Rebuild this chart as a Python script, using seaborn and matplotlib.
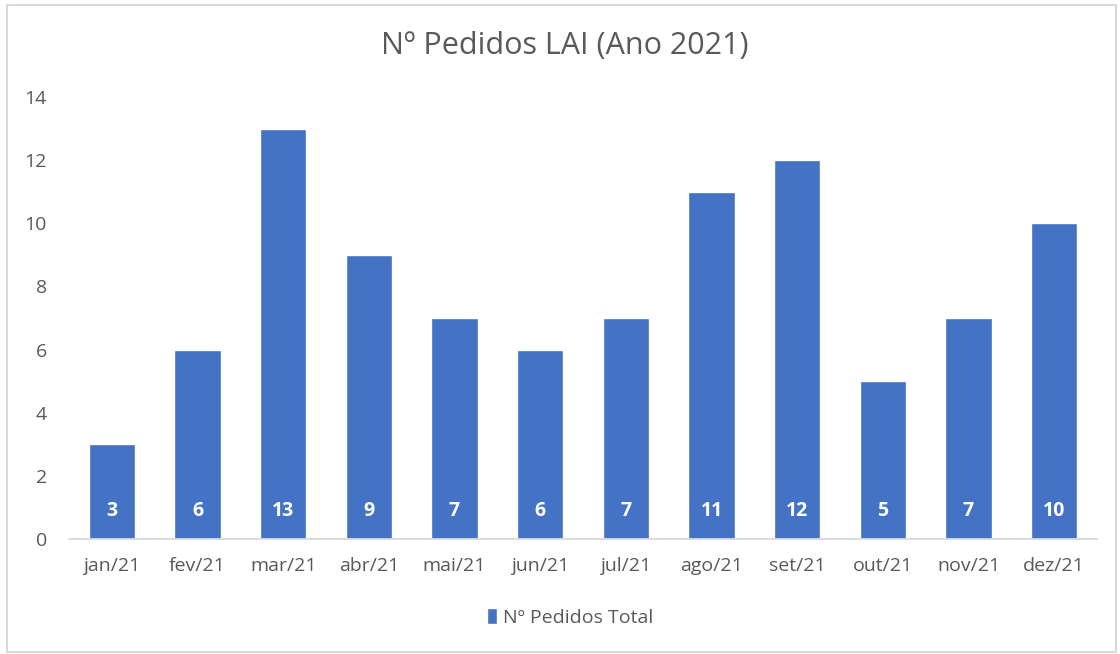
import numpy as np
import pandas as pd
import matplotlib
matplotlib.use("Agg")
import matplotlib.pyplot as plt
import seaborn as sns
from matplotlib.patches import Patch, Rectangle

# data
months = ['jan/21', 'fev/21', 'mar/21', 'abr/21', 'mai/21', 'jun/21',
          'jul/21', 'ago/21', 'set/21', 'out/21', 'nov/21', 'dez/21']
pedidos = [3, 6, 13, 9, 7, 6, 7, 11, 12, 5, 7, 10]
y_ticks = [0, 2, 4, 6, 8, 10, 12, 14]

df = pd.DataFrame({'mes': months, 'pedidos': pedidos})

bar_color = '#4472C4'
text_color = '#595959'
line_color = '#D9D9D9'

sns.set_style('white')
plt.rcParams['font.family'] = ['Open Sans', 'DejaVu Sans']

fig = plt.figure(figsize=(11.2, 6.54), dpi=100)
ax = fig.add_axes([0.0616, 0.1758, 0.9179, 0.6759])

sns.barplot(data=df, x='mes', y='pedidos', color=bar_color, width=0.54,
            saturation=1, ax=ax)

# value labels inside the bars, near the base
for p, v in zip(ax.patches, pedidos):
    ax.text(p.get_x() + p.get_width() / 2, 0.9, str(v), ha='center', va='center',
            color='white', fontsize=14, fontweight='bold')

ax.set_ylim(0, 14)
ax.set_xlim(-0.5, len(months) - 0.5)
ax.set_yticks(y_ticks)
ax.set_xlabel('')
ax.set_ylabel('')

for s in ['top', 'right', 'left']:
    ax.spines[s].set_visible(False)
ax.spines['bottom'].set_color(line_color)
ax.spines['bottom'].set_linewidth(1.3)

ax.set_xticks(np.arange(-0.5, len(months)), minor=True)
ax.tick_params(axis='x', which='minor', length=7, color=line_color, width=1.3)
ax.tick_params(axis='x', which='major', length=0, pad=13, labelsize=14, labelcolor=text_color)
ax.tick_params(axis='y', length=0, pad=16, labelsize=14, labelcolor=text_color)

fig.suptitle('Nº Pedidos LAI (Ano 2021)', x=0.504, y=0.952, fontsize=22, color=text_color)

fig.legend(handles=[Patch(facecolor=bar_color, label='Nº Pedidos Total')],
           loc='center', bbox_to_anchor=(0.509, 0.056), frameon=False,
           fontsize=14, labelcolor=text_color, handlelength=0.55, handleheight=0.9,
           handletextpad=0.3)

# chart area border
fig.patches.append(Rectangle((0.006, 0.003), 0.99, 0.99, transform=fig.transFigure,
                             fill=False, edgecolor='#D9D9D9', linewidth=1.5))

fig.savefig('out.png', dpi=100)
